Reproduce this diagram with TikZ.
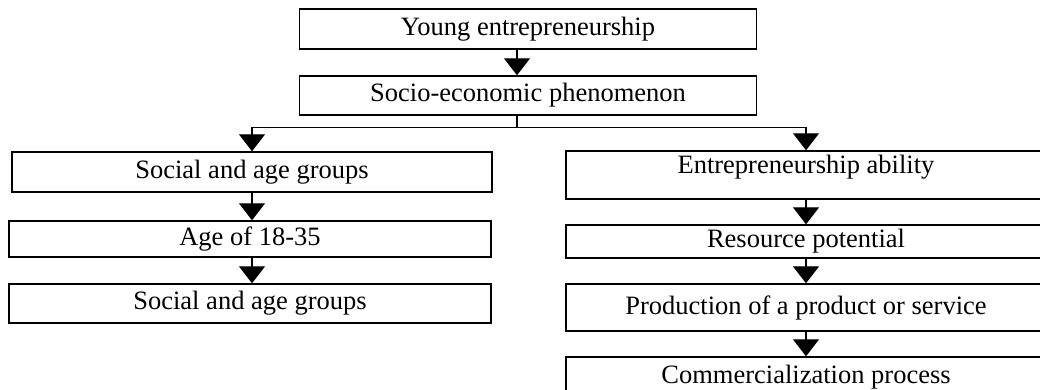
\documentclass[tikz,border=0pt]{standalone}
\usepackage{fontspec}
\setmainfont{Liberation Serif}
\usetikzlibrary{arrows.meta}

\begin{document}
\begin{tikzpicture}[x=1pt,y=-1pt,
		box/.style={draw, line width=1.4pt, inner sep=0pt, minimum width=#1, font=\fontsize{26.5}{31}\selectfont},
		box/.default=480pt,
		arr/.style={line width=1.2pt, -{Triangle[width=26pt,length=17pt]}}]
	\useasboundingbox (0,0) rectangle (1040,390);
	% top of the chart
	\node[box=457pt, minimum height=40pt] (young) at (528,29) {Young entrepreneurship};
	\node[box=457pt, minimum height=39pt] (socio) at (528,95.5) {Socio-economic phenomenon};
	% left branch
	\node[box, minimum height=40pt] (groups) at (252,172) {Social and age groups};
	\node[box=482pt, minimum height=36pt] (age) at (250,239) {Age of 18-35};
	\node[box=482pt, minimum height=39pt] (groups2) at (250,303.5) {Social and age groups};
	% right branch
	\node[box, text height=22pt, text depth=26pt] (ability) at (806,175) {Entrepreneurship ability};
	\node[box, minimum height=33pt] (resource) at (806,241.5) {Resource potential};
	\node[box, minimum height=47pt] (production) at (806,307.5) {Production of a product or service};
	\node[box, minimum height=40pt] (commerce) at (806,377) {Commercialization process};

	\draw[arr] ([xshift=-11pt]young.south) -- ([xshift=-11pt]socio.north);
	\draw[line width=1.2pt] ([xshift=-11pt]socio.south) -- ++(0,12) coordinate (split);
	\draw[arr] (split) -| (groups.north);
	\draw[arr] (split) -| (ability.north);
	\draw[arr] (groups.south) -- (groups.south |- age.north);
	\draw[arr] (groups.south |- age.south) -- (groups.south |- groups2.north);
	\draw[arr] (ability.south) -- (resource.north);
	\draw[arr] (resource.south) -- (production.north);
	\draw[arr] (production.south) -- (commerce.north);
\end{tikzpicture}
\end{document}
